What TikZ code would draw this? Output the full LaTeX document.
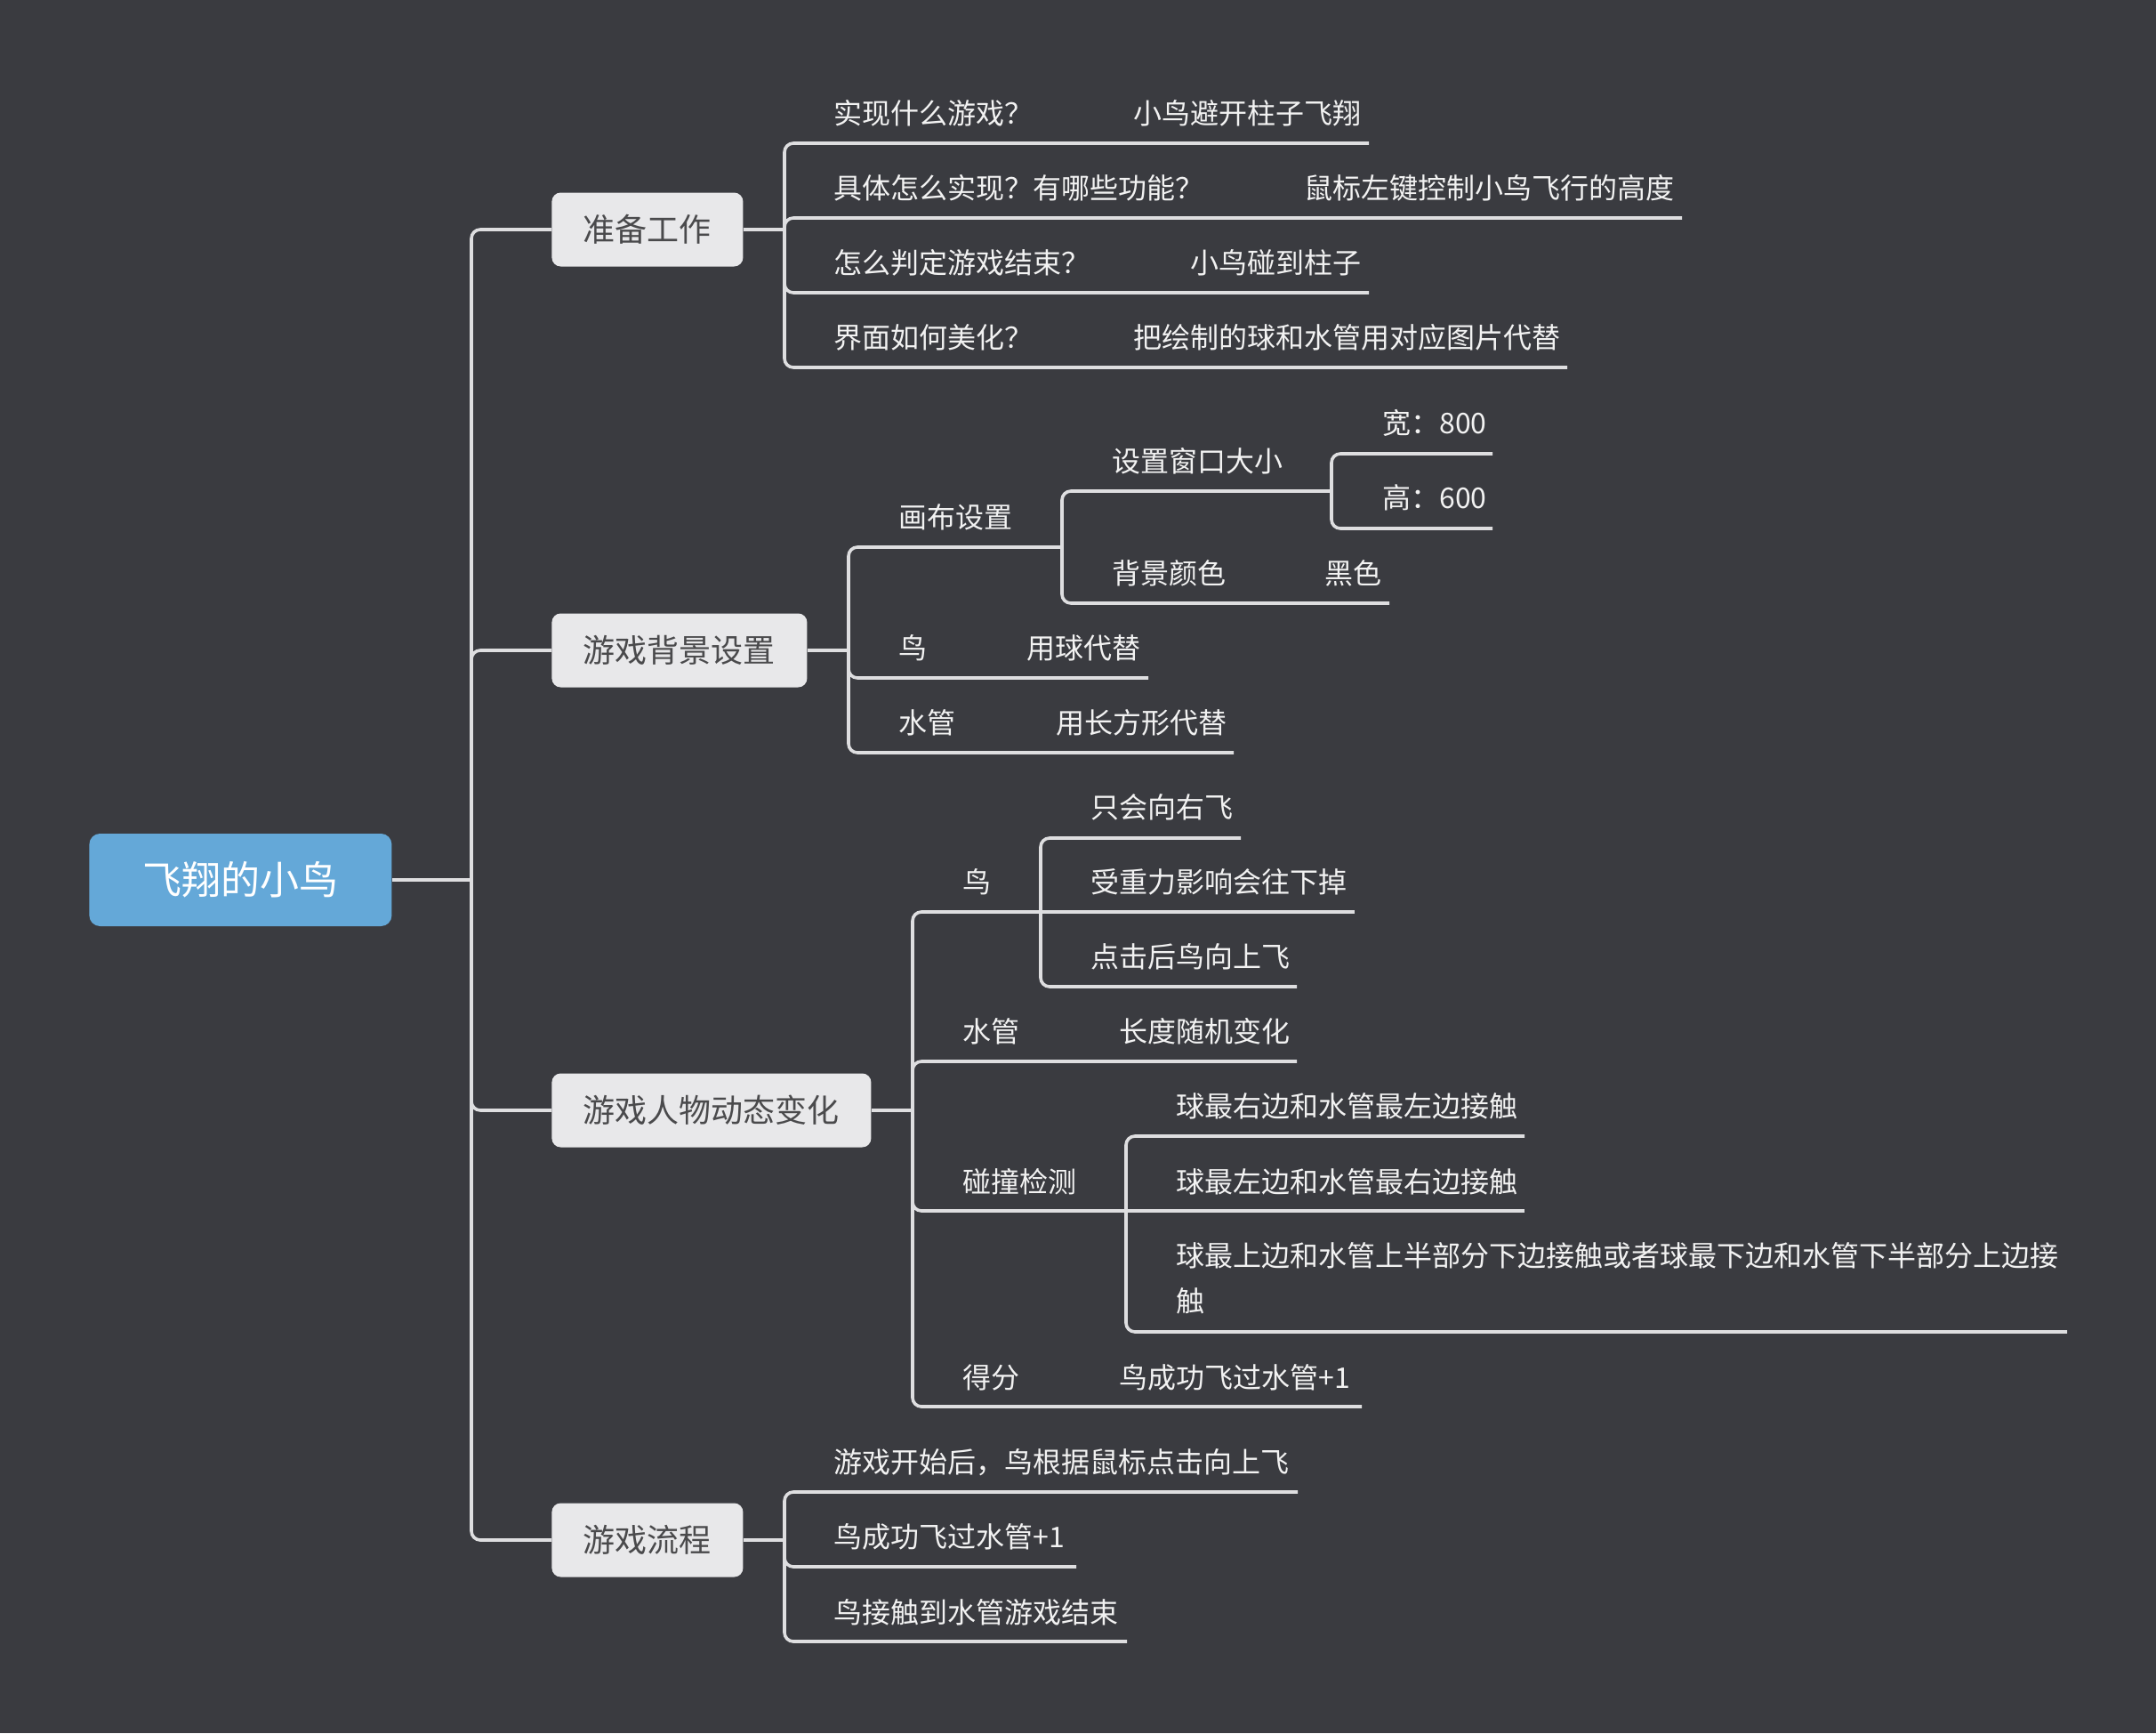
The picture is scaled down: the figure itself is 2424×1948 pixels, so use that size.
\documentclass[tikz,border=0pt]{standalone}
\usepackage{fontspec}
\setmainfont{Noto Sans CJK SC}
\definecolor{bg}{HTML}{3A3B40}
\definecolor{linec}{HTML}{DEDEE0}
\definecolor{rootfill}{HTML}{64A8D8}
\definecolor{topicfill}{HTML}{E8E8EA}
\definecolor{topictext}{HTML}{4A4A4C}
\definecolor{leaftext}{HTML}{F2F2F2}
\begin{document}
\begin{tikzpicture}[x=0.5pt,y=-0.5pt,
  leaf/.style={anchor=west,inner sep=0pt,text=leaftext,font=\fontsize{16pt}{25.5pt}\selectfont},
  topic/.style={anchor=west,fill=topicfill,text=topictext,rounded corners=5pt,inner xsep=17.75pt,inner ysep=0pt,minimum height=41.5pt,font=\fontsize{18pt}{22pt}\selectfont},
  rootnode/.style={anchor=west,fill=rootfill,text=white,rounded corners=6pt,inner xsep=30pt,inner ysep=0pt,minimum height=52pt,font=\fontsize{22pt}{26pt}\selectfont},
  link/.style={draw=linec,line width=1.8pt,rounded corners=5pt},
]
% canvas
\fill[bg] (0,0) rectangle (2424,1948);
\useasboundingbox (0,0) rectangle (2424,1948);

% central topic and main branches
\node[rootnode] (root) at (100,989) {飞翔的小鸟};
\node[topic] (n1) at (620,258) {准备工作};
\node[topic] (n2) at (620,731) {游戏背景设置};
\node[topic] (n3) at (620,1248) {游戏人物动态变化};
\node[topic] (n4) at (620,1731) {游戏流程};

\coordinate (jr) at (530,989);
\draw[link] (root.east) -- (jr);
\draw[link] (jr) |- (n1.west);
\draw[link] (jr) |- (n2.west);
\draw[link] (jr) |- (n3.west);
\draw[link] (jr) |- (n4.west);

% ---- 准备工作
\coordinate (j1) at (882,258);
\coordinate (e1a) at (1539,161);
\coordinate (e1b) at (1891,245);
\coordinate (e1c) at (1539,329);
\coordinate (e1d) at (1762,413);
\draw[link] (n1.east) -- (j1);
\draw[link] (j1) |- (e1a);
\draw[link] (j1) |- (e1b);
\draw[link] (j1) |- (e1c);
\draw[link] (j1) |- (e1d);
\node[leaf] (q1) at (937,127) {实现什么游戏？};
\node[leaf] (a1) at (1274,127) {小鸟避开柱子飞翔};
\node[leaf] (q2) at (937,211) {具体怎么实现？有哪些功能？};
\node[leaf] (a2) at (1466,211) {鼠标左键控制小鸟飞行的高度};
\node[leaf] (q3) at (937,295) {怎么判定游戏结束？};
\node[leaf] (a3) at (1338,295) {小鸟碰到柱子};
\node[leaf] (q4) at (937,379) {界面如何美化？};
\node[leaf] (a4) at (1274,379) {把绘制的球和水管用对应图片代替};

% ---- 游戏背景设置
\coordinate (j2) at (954,731);
\coordinate (j3) at (1194,615);
\coordinate (j4) at (1497,552);
\coordinate (e2a) at (1678,510);
\coordinate (e2b) at (1678,594);
\coordinate (e2c) at (1562,678);
\coordinate (e2d) at (1291,762);
\coordinate (e2e) at (1387,846);
\draw[link] (n2.east) -- (j2);
\draw[link] (j2) |- (j3);
\draw[link] (j3) |- (j4);
\draw[link] (j4) |- (e2a);
\draw[link] (j4) |- (e2b);
\draw[link] (j3) |- (e2c);
\draw[link] (j2) |- (e2d);
\draw[link] (j2) |- (e2e);
\node[leaf] (canvas) at (1010,581) {画布设置};
\node[leaf] (winsize) at (1250,518) {设置窗口大小};
\node[leaf] (width) at (1554,475) {宽：800};
\node[leaf] (height) at (1554,559) {高：600};
\node[leaf] (bgcol) at (1250,644) {背景颜色};
\node[leaf] (black) at (1489,644) {黑色};
\node[leaf] (bird1) at (1010,728) {鸟};
\node[leaf] (ball) at (1154,728) {用球代替};
\node[leaf] (pipe1) at (1010,812) {水管};
\node[leaf] (rect) at (1187,812) {用长方形代替};

% ---- 游戏人物动态变化
\coordinate (j5) at (1026,1248);
\coordinate (j6) at (1170,1025);
\coordinate (j7) at (1266,1361);
\coordinate (e3a) at (1395,942);
\coordinate (e3b) at (1523,1025);
\coordinate (e3c) at (1458,1109);
\coordinate (e3d) at (1458,1193);
\coordinate (e3e) at (1714,1277);
\coordinate (e3f) at (1714,1361);
\coordinate (e3g) at (2324,1497);
\coordinate (e3h) at (1531,1581);
\draw[link] (n3.east) -- (j5);
\draw[link] (j5) |- (j6);
\draw[link] (j6) |- (e3a);
\draw[link] (j6) -- (e3b);
\draw[link] (j6) |- (e3c);
\draw[link] (j5) |- (e3d);
\draw[link] (j5) |- (j7);
\draw[link] (j7) |- (e3e);
\draw[link] (j7) -- (e3f);
\draw[link] (j7) |- (e3g);
\draw[link] (j5) |- (e3h);
\node[leaf] (bird2) at (1082,991) {鸟};
\node[leaf] (right) at (1226,907) {只会向右飞};
\node[leaf] (gravity) at (1226,991) {受重力影响会往下掉};
\node[leaf] (click) at (1226,1075) {点击后鸟向上飞};
\node[leaf] (pipe2) at (1082,1159) {水管};
\node[leaf] (randlen) at (1258,1159) {长度随机变化};
\node[leaf] (hit) at (1082,1328) {碰撞检测};
\node[leaf] (hit1) at (1322,1243) {球最右边和水管最左边接触};
\node[leaf] (hit2) at (1322,1328) {球最左边和水管最右边接触};
\node[leaf,align=left] (hit3) at (1322,1437) {球最上边和水管上半部分下边接触或者球最下边和水管下半部分上边接\\触};
\node[leaf] (score) at (1082,1548) {得分};
\node[leaf] (plus1) at (1258,1548) {鸟成功飞过水管+1};

% ---- 游戏流程
\coordinate (j8) at (882,1731);
\coordinate (e4a) at (1459,1677);
\coordinate (e4b) at (1210,1761);
\coordinate (e4c) at (1267,1845);
\draw[link] (n4.east) -- (j8);
\draw[link] (j8) |- (e4a);
\draw[link] (j8) |- (e4b);
\draw[link] (j8) |- (e4c);
\node[leaf] (f1) at (937,1644) {游戏开始后，鸟根据鼠标点击向上飞};
\node[leaf] (f2) at (937,1727) {鸟成功飞过水管+1};
\node[leaf] (f3) at (937,1812) {鸟接触到水管游戏结束};
\end{tikzpicture}
\end{document}
